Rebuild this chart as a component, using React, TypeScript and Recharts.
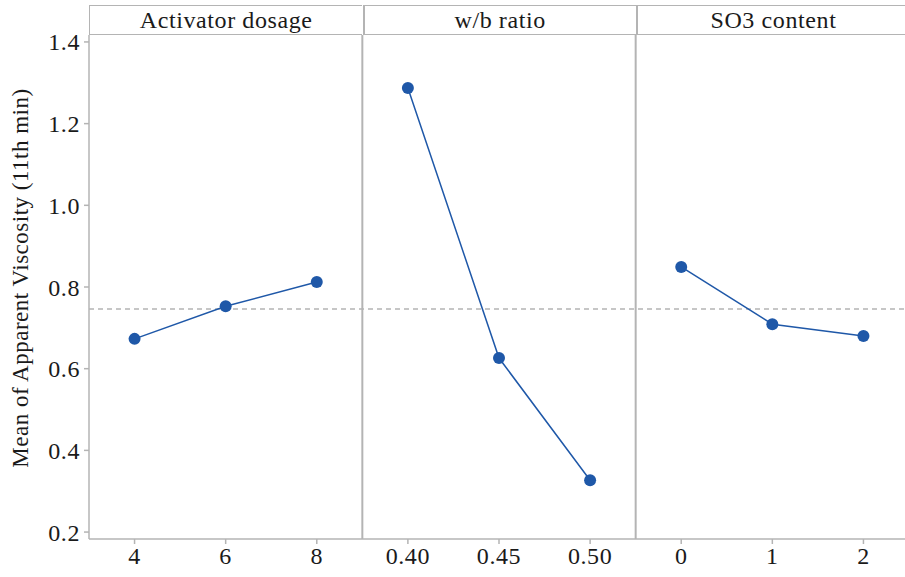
import React from 'react';
import { LineChart, Line, XAxis, YAxis, ReferenceLine } from 'recharts';

const panelTitles = ['Activator dosage', 'w/b ratio', 'SO3 content'];
const activatorLevels = ['4', '6', '8'];
const wbLevels = ['0.40', '0.45', '0.50'];
const so3Levels = ['0', '1', '2'];
const activatorMeans = [0.673, 0.753, 0.812];
const wbMeans = [1.287, 0.626, 0.327];
const so3Means = [0.849, 0.709, 0.68];
const grandMean = 0.746;
const yTicks = [0.2, 0.4, 0.6, 0.8, 1.0, 1.2, 1.4];
const yTitle = 'Mean of Apparent Viscosity (11th min)';

const allLevels = [...activatorLevels, ...wbLevels, ...so3Levels];
const toRows = (vals: number[], panel: number) => vals.map((v, i) => ({ x: panel * 3 + i, y: v }));
const activatorData = toRows(activatorMeans, 0);
const wbData = toRows(wbMeans, 1);
const so3Data = toRows(so3Means, 2);

const GRID = '#b4b4b4';
const BLUE = '#1f58a8';
const FONT = 'Liberation Serif';
const textStyle = { fontFamily: FONT, fontSize: 24, letterSpacing: 0.6, fill: '#1a1a1a' };

// panel edges in px (plot runs from 89 to ~909, clipped at 905)
const panelLeft = [89, 362.5, 635.8];
const panelW = 273.3;

// rotated y title, nudged a little above the plot centre like the original
const YTitle = ({ viewBox }: any) => {
  const cx = 20;
  const cy = viewBox.y + viewBox.height / 2 - 9;
  return (
    <text
      x={cx}
      y={cy}
      transform={`rotate(-90 ${cx} ${cy})`}
      textAnchor="middle"
      dominantBaseline="central"
      style={{ fontFamily: FONT, fontSize: 23, letterSpacing: 0.5, fill: '#1a1a1a' }}
    >
      {yTitle}
    </text>
  );
};

export default function App() {
  const dot = { r: 6, fill: BLUE, stroke: BLUE, strokeWidth: 0 };
  return (
    <div style={{ position: 'absolute', left: 0, top: 0, width: 905, height: 577, overflow: 'hidden', background: '#fff', fontFamily: FONT }}>
      <LineChart width={909} height={577} margin={{ top: 35, right: 0, bottom: 0, left: 0 }} style={{ fontFamily: FONT }}>
        <XAxis
          type="number"
          dataKey="x"
          domain={[-0.5, 8.5]}
          ticks={[0, 1, 2, 3, 4, 5, 6, 7, 8]}
          tickFormatter={(v: number) => allLevels[v]}
          height={38}
          tickSize={5}
          tickMargin={3}
          stroke={GRID}
          strokeWidth={1.5}
          tick={{ style: textStyle }}
        />
        <YAxis
          type="number"
          domain={[0.183, 1.417]}
          ticks={yTicks}
          tickFormatter={(v: number) => v.toFixed(1)}
          width={89}
          tickSize={5}
          tickMargin={4}
          stroke={GRID}
          strokeWidth={1.5}
          tick={{ style: textStyle }}
          label={{ content: YTitle }}
        />
        <ReferenceLine y={grandMean} stroke={GRID} strokeDasharray="5 4" strokeWidth={1.5} />
        <ReferenceLine x={2.5} stroke={GRID} strokeWidth={2} />
        <ReferenceLine x={5.5} stroke={GRID} strokeWidth={2} />
        <Line data={activatorData} dataKey="y" stroke={BLUE} strokeWidth={1.5} dot={dot} activeDot={false} isAnimationActive={false} />
        <Line data={wbData} dataKey="y" stroke={BLUE} strokeWidth={1.5} dot={dot} activeDot={false} isAnimationActive={false} />
        <Line data={so3Data} dataKey="y" stroke={BLUE} strokeWidth={1.5} dot={dot} activeDot={false} isAnimationActive={false} />
      </LineChart>
      {/* panel header strip */}
      {panelTitles.map((t, i) => (
        <div
          key={t}
          style={{
            position: 'absolute',
            left: panelLeft[i],
            top: 5,
            width: panelW,
            height: 30,
            boxSizing: 'border-box',
            borderTop: `1.5px solid ${GRID}`,
            borderBottom: `1.5px solid ${GRID}`,
            borderLeft: `${i === 0 ? 1.5 : 2}px solid ${GRID}`,
            fontFamily: FONT,
            fontSize: 24,
            letterSpacing: 0.6,
            color: '#1a1a1a',
            textAlign: 'center',
            lineHeight: '28px',
          }}
        >
          {t}
        </div>
      ))}
    </div>
  );
}
